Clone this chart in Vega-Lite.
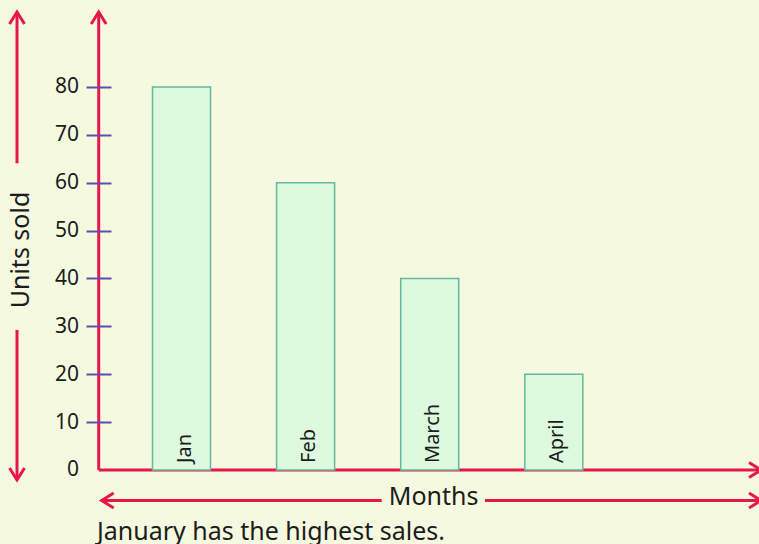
{
  "$schema": "https://vega.github.io/schema/vega-lite/v6.json",
  "width": 759,
  "height": 544,
  "autosize": {"type": "none"},
  "padding": 0,
  "background": "#f4f9e0",
  "config": {"view": {"stroke": null}, "font": "Noto Sans"},
  "resolve": {"axis": {"x": "independent", "y": "independent"}},
  "data": {"values": [
    {"month": "Jan", "num": 1, "units": 80},
    {"month": "Feb", "num": 2, "units": 60},
    {"month": "March", "num": 3, "units": 40},
    {"month": "April", "num": 4, "units": 20}
  ]},
  "layer": [
    {
      "data": {"values": [{}]},
      "mark": {"type": "rule", "color": "#e8174a", "strokeWidth": 3},
      "encoding": {
        "x": {"datum": 0.3328, "type": "quantitative", "scale": {"domain": [-0.4625, 5.6534], "nice": false, "zero": false, "padding": 0}, "axis": null},
        "y": {"datum": 0, "type": "quantitative", "scale": {"domain": [-15.457, 98.172], "nice": false, "zero": false, "padding": 0}, "axis": null},
        "y2": {"datum": 95.67}
      }
    },
    {
      "data": {"values": [{}]},
      "mark": {"type": "rule", "color": "#e8174a", "strokeWidth": 3},
      "encoding": {
        "x": {"datum": 0.3328, "type": "quantitative", "scale": {"domain": [-0.4625, 5.6534], "nice": false, "zero": false, "padding": 0}, "axis": null},
        "x2": {"datum": 5.67},
        "y": {"datum": 0, "type": "quantitative", "scale": {"domain": [-15.457, 98.172], "nice": false, "zero": false, "padding": 0}, "axis": null}
      }
    },
    {
      "data": {"values": [{}]},
      "mark": {"type": "rule", "color": "#e8174a", "strokeWidth": 3},
      "encoding": {
        "x": {"datum": -0.3255, "type": "quantitative", "scale": {"domain": [-0.4625, 5.6534], "nice": false, "zero": false, "padding": 0}, "axis": null},
        "y": {"datum": 95.67, "type": "quantitative", "scale": {"domain": [-15.457, 98.172], "nice": false, "zero": false, "padding": 0}, "axis": null},
        "y2": {"datum": 64.06}
      }
    },
    {
      "data": {"values": [{}]},
      "mark": {"type": "rule", "color": "#e8174a", "strokeWidth": 3},
      "encoding": {
        "x": {"datum": -0.3255, "type": "quantitative", "scale": {"domain": [-0.4625, 5.6534], "nice": false, "zero": false, "padding": 0}, "axis": null},
        "y": {"datum": 29.24, "type": "quantitative", "scale": {"domain": [-15.457, 98.172], "nice": false, "zero": false, "padding": 0}, "axis": null},
        "y2": {"datum": -2.09}
      }
    },
    {
      "data": {"values": [{}]},
      "mark": {"type": "rule", "color": "#e8174a", "strokeWidth": 3},
      "encoding": {
        "x": {"datum": 0.357, "type": "quantitative", "scale": {"domain": [-0.4625, 5.6534], "nice": false, "zero": false, "padding": 0}, "axis": null},
        "x2": {"datum": 2.613},
        "y": {"datum": -6.37, "type": "quantitative", "scale": {"domain": [-15.457, 98.172], "nice": false, "zero": false, "padding": 0}, "axis": null}
      }
    },
    {
      "data": {"values": [{}]},
      "mark": {"type": "rule", "color": "#e8174a", "strokeWidth": 3},
      "encoding": {
        "x": {"datum": 3.4456, "type": "quantitative", "scale": {"domain": [-0.4625, 5.6534], "nice": false, "zero": false, "padding": 0}, "axis": null},
        "x2": {"datum": 5.67},
        "y": {"datum": -6.37, "type": "quantitative", "scale": {"domain": [-15.457, 98.172], "nice": false, "zero": false, "padding": 0}, "axis": null}
      }
    },
    {
      "data": {"values": [{}]},
      "mark": {"type": "point", "shape": "M-1,1.6L0,0L1,1.6", "size": 225, "filled": false, "stroke": "#e8174a", "strokeWidth": 3, "opacity": 1},
      "encoding": {
        "x": {"datum": 0.3328, "type": "quantitative", "scale": {"domain": [-0.4625, 5.6534], "nice": false, "zero": false, "padding": 0}, "axis": null},
        "y": {"datum": 95.67, "type": "quantitative", "scale": {"domain": [-15.457, 98.172], "nice": false, "zero": false, "padding": 0}, "axis": null}
      }
    },
    {
      "data": {"values": [{}]},
      "mark": {"type": "point", "shape": "M-1,1.6L0,0L1,1.6", "size": 225, "filled": false, "stroke": "#e8174a", "strokeWidth": 3, "opacity": 1},
      "encoding": {
        "x": {"datum": -0.3255, "type": "quantitative", "scale": {"domain": [-0.4625, 5.6534], "nice": false, "zero": false, "padding": 0}, "axis": null},
        "y": {"datum": 95.67, "type": "quantitative", "scale": {"domain": [-15.457, 98.172], "nice": false, "zero": false, "padding": 0}, "axis": null}
      }
    },
    {
      "data": {"values": [{}]},
      "mark": {"type": "point", "shape": "M-1,-1.6L0,0L1,-1.6", "size": 225, "filled": false, "stroke": "#e8174a", "strokeWidth": 3, "opacity": 1},
      "encoding": {
        "x": {"datum": -0.3255, "type": "quantitative", "scale": {"domain": [-0.4625, 5.6534], "nice": false, "zero": false, "padding": 0}, "axis": null},
        "y": {"datum": -2.09, "type": "quantitative", "scale": {"domain": [-15.457, 98.172], "nice": false, "zero": false, "padding": 0}, "axis": null}
      }
    },
    {
      "data": {"values": [{}]},
      "mark": {"type": "point", "shape": "M-1.6,-1L0,0L-1.6,1", "size": 225, "filled": false, "stroke": "#e8174a", "strokeWidth": 3, "opacity": 1},
      "encoding": {
        "x": {"datum": 5.6696, "type": "quantitative", "scale": {"domain": [-0.4625, 5.6534], "nice": false, "zero": false, "padding": 0}, "axis": null},
        "y": {"datum": 0, "type": "quantitative", "scale": {"domain": [-15.457, 98.172], "nice": false, "zero": false, "padding": 0}, "axis": null}
      }
    },
    {
      "data": {"values": [{}]},
      "mark": {"type": "point", "shape": "M-1.6,-1L0,0L-1.6,1", "size": 225, "filled": false, "stroke": "#e8174a", "strokeWidth": 3, "opacity": 1},
      "encoding": {
        "x": {"datum": 5.6696, "type": "quantitative", "scale": {"domain": [-0.4625, 5.6534], "nice": false, "zero": false, "padding": 0}, "axis": null},
        "y": {"datum": -6.37, "type": "quantitative", "scale": {"domain": [-15.457, 98.172], "nice": false, "zero": false, "padding": 0}, "axis": null}
      }
    },
    {
      "data": {"values": [{}]},
      "mark": {"type": "point", "shape": "M1.6,-1L0,0L1.6,1", "size": 225, "filled": false, "stroke": "#e8174a", "strokeWidth": 3, "opacity": 1},
      "encoding": {
        "x": {"datum": 0.357, "type": "quantitative", "scale": {"domain": [-0.4625, 5.6534], "nice": false, "zero": false, "padding": 0}, "axis": null},
        "y": {"datum": -6.37, "type": "quantitative", "scale": {"domain": [-15.457, 98.172], "nice": false, "zero": false, "padding": 0}, "axis": null}
      }
    },
    {
      "data": {"values": [{}]},
      "mark": {"type": "text", "text": "Units sold", "angle": 270, "align": "center", "baseline": "alphabetic", "fontSize": 25, "color": "#1c1c1c"},
      "encoding": {
        "x": {"datum": -0.2248, "type": "quantitative", "scale": {"domain": [-0.4625, 5.6534], "nice": false, "zero": false, "padding": 0}, "axis": null},
        "y": {"datum": 45.95, "type": "quantitative", "scale": {"domain": [-15.457, 98.172], "nice": false, "zero": false, "padding": 0}, "axis": null}
      }
    },
    {
      "data": {"values": [{}]},
      "mark": {"type": "text", "text": "Months", "align": "center", "baseline": "alphabetic", "fontSize": 25, "color": "#1c1c1c"},
      "encoding": {
        "x": {"datum": 3.031, "type": "quantitative", "scale": {"domain": [-0.4625, 5.6534], "nice": false, "zero": false, "padding": 0}, "axis": null},
        "y": {"datum": -7.31, "type": "quantitative", "scale": {"domain": [-15.457, 98.172], "nice": false, "zero": false, "padding": 0}, "axis": null}
      }
    },
    {
      "data": {"values": [{}]},
      "mark": {"type": "text", "text": "January has the highest sales.", "align": "left", "baseline": "alphabetic", "fontSize": 25, "color": "#1c1c1c"},
      "encoding": {
        "x": {"datum": 0.3191, "type": "quantitative", "scale": {"domain": [-0.4625, 5.6534], "nice": false, "zero": false, "padding": 0}, "axis": null},
        "y": {"datum": -14.62, "type": "quantitative", "scale": {"domain": [-15.457, 98.172], "nice": false, "zero": false, "padding": 0}, "axis": null}
      }
    },
    {
      "mark": {"type": "bar", "size": 58, "fill": "#ddf9de", "stroke": "#62b99e", "strokeWidth": 1.5},
      "encoding": {
        "x": {"field": "num", "type": "quantitative", "scale": {"domain": [-0.4625, 5.6534], "nice": false, "zero": false, "padding": 0}, "axis": null},
        "y": {"field": "units", "type": "quantitative", "scale": {"domain": [-15.457, 98.172], "nice": false, "zero": false, "padding": 0},
          "axis": {"orient": "left", "offset": -111, "values": [0, 10, 20, 30, 40, 50, 60, 70, 80], "title": null, "grid": false, "domain": false,
            "tickSize": 25, "tickWidth": 2, "tickColor": "#5c4fae",
            "tickOpacity": {"condition": {"test": "datum.value == 0", "value": 0}, "value": 1},
            "labelPadding": 7.5, "labelFontSize": 21, "labelColor": "#1c1c1c", "labelFont": "Noto Sans", "zindex": 1}},
        "y2": {"datum": 0}
      }
    },
    {
      "mark": {"type": "text", "angle": 270, "align": "left", "baseline": "alphabetic", "dx": 7, "dy": 9, "fontSize": 20, "color": "#1c1c1c"},
      "encoding": {
        "x": {"field": "num", "type": "quantitative", "scale": {"domain": [-0.4625, 5.6534], "nice": false, "zero": false, "padding": 0}, "axis": null},
        "y": {"datum": 0, "type": "quantitative", "scale": {"domain": [-15.457, 98.172], "nice": false, "zero": false, "padding": 0}, "axis": null},
        "text": {"field": "month", "type": "nominal"}
      }
    }
  ]
}
